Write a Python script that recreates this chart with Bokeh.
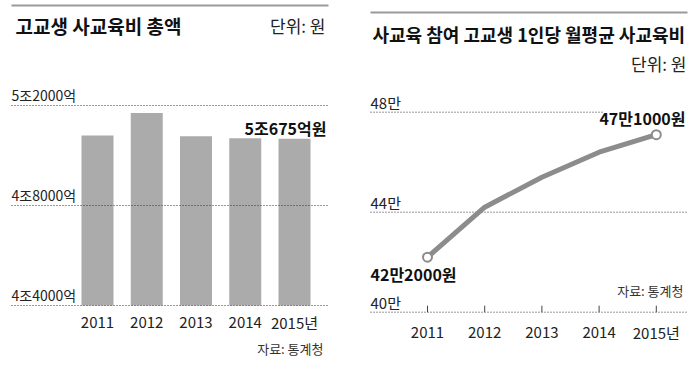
from bokeh.plotting import figure
from bokeh.layouts import row
from bokeh.models import Range1d, ColumnDataSource
from bokeh.core.properties import value
from bokeh.embed import file_html
from bokeh.resources import INLINE

# ---------------- data ----------------
years = [2011, 2012, 2013, 2014, 2015]
year_labels = ["2011", "2012", "2013", "2014", "2015년"]

# left: total private education spending for high school students (억 원)
total_spend = [50800, 51700, 50770, 50690, 50675]
total_ticks = [44000, 48000, 52000]
total_tick_labels = ["4조4000억", "4조8000억", "5조2000억"]
total_title = "고교생 사교육비 총액"
total_note = "5조675억원"

# right: monthly average per participating high school student (원)
monthly_spend = [422000, 442000, 454000, 464000, 471000]
monthly_ticks = [400000, 440000, 480000]
monthly_tick_labels = ["40만", "44만", "48만"]
monthly_title = "사교육 참여 고교생 1인당 월평균 사교육비"
first_note = "42만2000원"
last_note = "47만1000원"

unit_text = "단위: 원"
source_text = "자료: 통계청"

KR = value("Noto Sans CJK KR")

W, H = 350, 365


def make_fig(xr, yr):
    p = figure(width=W, height=H, x_range=xr, y_range=yr,
               output_backend="svg", toolbar_location=None,
               min_border=0, min_border_left=0, min_border_right=0,
               min_border_top=0, min_border_bottom=0)
    p.axis.visible = False
    p.grid.visible = False
    p.outline_line_color = None
    p.background_fill_color = "white"
    p.border_fill_color = "white"
    return p


def txt(p, x, y, t, size, align="left", bold=False, color="#222222"):
    p.text(x=x, y=y, text=t, text_font=KR, text_font_size=size,
           text_font_style="bold" if bold else "normal", text_color=color,
           text_baseline="middle", text_align=align)


# ---------------- left panel (page x 0..350) ----------------
L_px_per_year = 49.25
L_ppv = 40.0  # 억 per px


def lx(px):
    return years[0] + (px - 97) / L_px_per_year


def ly(py):
    return total_ticks[0] + (305 - py) * L_ppv


pl = make_fig(Range1d(lx(0), lx(W)), Range1d(ly(H), ly(0)))

pl.segment(x0=[lx(11)], y0=[ly(5)], x1=[lx(328)], y1=[ly(5)],
           line_color="#9a9a9a", line_width=2)
txt(pl, [lx(15)], [ly(25)], [total_title], "19px", bold=True, color="#111111")
txt(pl, [lx(325)], [ly(25)], [unit_text], "17px", align="right")

src_l = ColumnDataSource(dict(x=years, top=total_spend,
                              bottom=[total_ticks[0]] * len(years)))
pl.vbar(x="x", top="top", bottom="bottom", width=32 / L_px_per_year,
        source=src_l, fill_color="#ababab", line_color=None)

pl.segment(x0=[lx(11)] * 3, y0=total_ticks, x1=[lx(328)] * 3, y1=total_ticks,
           line_color="#333333", line_width=1, line_dash="1 2")
txt(pl, [lx(11)] * 3, [t + 11 * L_ppv for t in total_ticks],
    total_tick_labels, "14px")

txt(pl, years, [total_ticks[0] - 17 * L_ppv] * 5, year_labels, "15px",
    align="center")

txt(pl, [lx(326)], [ly(127)], [total_note], "16px", align="right", bold=True,
    color="#111111")
txt(pl, [lx(323)], [ly(348)], [source_text], "13px", align="right",
    color="#333333")

# ---------------- right panel (page x 350..700) ----------------
R_px_per_year = 57.2
R_ppv = 400.0  # 원 per px


def rx(px):
    return years[0] + (px - 427) / R_px_per_year


def ry(py):
    return monthly_ticks[0] + (311.7 - py) * R_ppv


pr = make_fig(Range1d(rx(350), rx(350 + W)), Range1d(ry(H), ry(0)))

pr.segment(x0=[rx(370)], y0=[ry(12)], x1=[rx(687)], y1=[ry(12)],
           line_color="#9a9a9a", line_width=2)
txt(pr, [rx(372)], [ry(33)], [monthly_title], "18px", bold=True,
    color="#111111")
txt(pr, [rx(686)], [ry(63)], [unit_text], "17px", align="right")

grid_x1 = [rx(687), rx(687), rx(603)]
pr.segment(x0=[rx(370)] * 3, y0=monthly_ticks, x1=grid_x1, y1=monthly_ticks,
           line_color="#333333", line_width=1, line_dash="1 2")
txt(pr, [rx(370)] * 3, [t + 10 * R_ppv for t in monthly_ticks],
    monthly_tick_labels, "15px")

pr.segment(x0=years, y0=[monthly_ticks[0]] * 5, x1=years,
           y1=[monthly_ticks[0] + 6.5 * R_ppv] * 5,
           line_color="#444444", line_width=1)

src_r = ColumnDataSource(dict(x=years, y=monthly_spend))
pr.line(x="x", y="y", source=src_r, line_color="#8c8c8c", line_width=5,
        line_join="round")
pr.scatter(x=[years[0], years[-1]], y=[monthly_spend[0], monthly_spend[-1]],
           size=9, fill_color="white", line_color="#8c8c8c", line_width=2)

txt(pr, [rx(685)], [ry(117)], [last_note], "16px", align="right", bold=True,
    color="#111111")
txt(pr, [rx(370)], [ry(273)], [first_note], "16px", bold=True,
    color="#111111")
txt(pr, [rx(683)], [ry(290)], [source_text], "13px", align="right",
    color="#333333")

txt(pr, years, [monthly_ticks[0] - 20 * R_ppv] * 5, year_labels, "15px",
    align="center")

layout = row(pl, pr, spacing=0)
open("out.html", "w").write(file_html(layout, INLINE))
